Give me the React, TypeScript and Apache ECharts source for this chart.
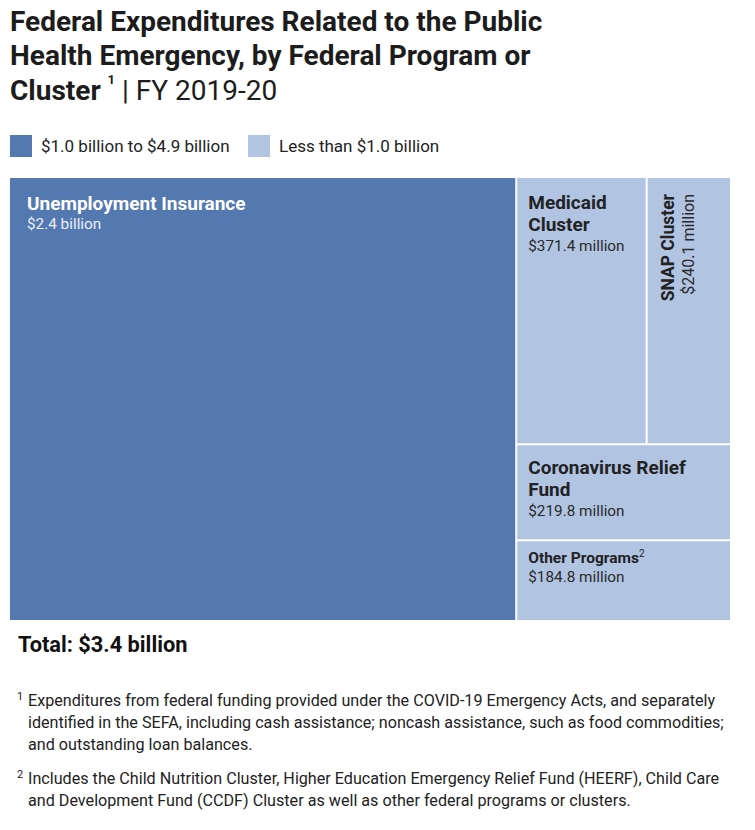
import React, { useEffect, useRef } from 'react';
import * as echarts from 'echarts';

// ---- Data ----
const programs = ['Unemployment Insurance', 'Medicaid Cluster', 'SNAP Cluster', 'Coronavirus Relief Fund', 'Other Programs'];
const nameLines = [['Unemployment Insurance'], ['Medicaid', 'Cluster'], ['SNAP Cluster'], ['Coronavirus Relief', 'Fund'], ['Other Programs']];
const amounts = [2400, 371.4, 240.1, 219.8, 184.8]; // $ millions
const amountLabels = ['$2.4 billion', '$371.4 million', '$240.1 million', '$219.8 million', '$184.8 million'];
const footnoteRefs = [0, 0, 0, 0, 2];
const legendLabels = ['$1.0 billion to $4.9 billion', 'Less than $1.0 billion'];
const legendThresholds = [1000, 0];
const totalLabel = 'Total: $3.4 billion';
const titleLines = ['Federal Expenditures Related to the Public', 'Health Emergency, by Federal Program or', 'Cluster'];
const titleSuffix = '| FY 2019-20';
const footnote1 = [
  'Expenditures from federal funding provided under the COVID-19 Emergency Acts, and separately',
  'identified in the SEFA, including cash assistance; noncash assistance, such as food commodities;',
  'and outstanding loan balances.',
];
const footnote2 = [
  'Includes the Child Nutrition Cluster, Higher Education Emergency Relief Fund (HEERF), Child Care',
  'and Development Fund (CCDF) Cluster as well as other federal programs or clusters.',
];

const DARK = '#5479B0';
const LIGHT = '#B1C4E2';
const TEXT = '#222222';
const FONT = 'Roboto';

function colorFor(v: number) {
  return v >= legendThresholds[0] ? DARK : LIGHT;
}

function buildLabel(i: number) {
  const dark = amounts[i] >= legendThresholds[0];
  const nameColor = dark ? '#ffffff' : TEXT;
  const valColor = dark ? '#E9EEF6' : '#2a2a2a';
  const name = programs[i];
  const isSmall = name === 'Other Programs';
  const isRotated = name === 'SNAP Cluster';
  const sup = footnoteRefs[i] ? '{s|' + footnoteRefs[i] + '}' : '';
  const formatter =
    nameLines[i].map((l) => '{n|' + l + '}').join('\n') + sup + '\n{v|' + amountLabels[i] + '}';
  const rich = {
    n: {
      fontFamily: FONT,
      fontWeight: 'bold',
      fontSize: isSmall ? 15.5 : isRotated ? 17.5 : 19,
      lineHeight: isSmall ? 19 : 22.5,
      color: nameColor,
    },
    s: { fontFamily: FONT, fontSize: 10, lineHeight: 11, verticalAlign: 'top', color: nameColor },
    v: { fontFamily: FONT, fontSize: isRotated ? 16 : 15.3, lineHeight: isSmall ? 20 : 19, color: valColor },
  };
  let position: number[] = [11, 13];
  if (dark) position = [17, 14];
  if (isSmall) position = [11, 7];
  if (name === 'Coronavirus Relief Fund') position = [11, 11];
  if (isRotated) position = [9, 16];
  return {
    show: true,
    position,
    padding: 0,
    overflow: 'none',
    align: isRotated ? 'right' : 'left',
    verticalAlign: 'top',
    rotate: isRotated ? 90 : 0,
    formatter,
    rich,
  };
}

export default function App() {
  const ref = useRef<HTMLDivElement>(null);
  useEffect(() => {
    if (!ref.current) return;
    const chart = echarts.init(ref.current, undefined, { renderer: 'svg' });

    const data = programs.map((p, i) => ({
      name: p,
      value: amounts[i],
      itemStyle: { color: colorFor(amounts[i]), borderWidth: 0, gapWidth: 0 },
      label: buildLabel(i),
    }));

    const graphic: any[] = [];
    // legend
    let lx = 10;
    legendLabels.forEach((t, i) => {
      graphic.push({ type: 'rect', left: lx, top: 135, shape: { width: 22, height: 22 }, style: { fill: colorFor(legendThresholds[i]) } });
      graphic.push({
        type: 'text', x: lx + 31, y: 146,
        style: { text: t, font: '17px Roboto', fill: TEXT, textVerticalAlign: 'middle', textAlign: 'left' },
      });
      lx = 248;
    });
    // total
    graphic.push({
      type: 'text', x: 18, y: 644,
      style: { text: totalLabel, font: 'bold 21.8px Roboto', fill: '#111', textVerticalAlign: 'middle' },
    });
    // footnotes
    const fn = (mark: string, lines: string[], y: number) => {
      graphic.push({
        type: 'text', x: 17, y: y - 4,
        style: { text: mark, font: '11px Roboto', fill: TEXT, textVerticalAlign: 'middle' },
      });
      graphic.push({
        type: 'text', x: 28, y: y - 11, scaleX: 0.95,
        style: { text: lines.join('\n'), font: '17px Roboto', fill: TEXT, lineHeight: 22, textVerticalAlign: 'top' },
      });
    };
    fn('1', footnote1, 700);
    fn('2', footnote2, 778);

    chart.setOption({
      animation: false,
      backgroundColor: '#ffffff',
      title: {
        left: 10,
        top: 4,
        padding: 0,
        text:
          '{b|' + titleLines[0] + '}\n{b|' + titleLines[1] + '}\n{b|' + titleLines[2] + ' }{sup|1}{r| ' + titleSuffix + '}',
        textStyle: {
          rich: {
            b: { fontFamily: FONT, fontWeight: 'bold', fontSize: 28, lineHeight: 34.5, color: '#1c1c1c' },
            sup: { fontFamily: FONT, fontSize: 13, lineHeight: 24, verticalAlign: 'top', color: '#1c1c1c' },
            r: { fontFamily: FONT, fontWeight: 'normal', fontSize: 28, lineHeight: 34.5, color: '#1c1c1c' },
          },
        },
      },
      graphic,
      series: [
        {
          type: 'treemap',
          left: 10,
          top: 178,
          width: 720,
          height: 442,
          roam: false,
          nodeClick: false,
          breadcrumb: { show: false },
          silent: true,
          itemStyle: { borderWidth: 0, gapWidth: 2, borderColor: '#ffffff' },
          upperLabel: { show: false },
          emphasis: { disabled: true },
          data,
        },
      ],
    });
    return () => chart.dispose();
  }, []);
  return <div ref={ref} style={{ position: 'absolute', left: 0, top: 0, width: 755, height: 830 }} />;
}
